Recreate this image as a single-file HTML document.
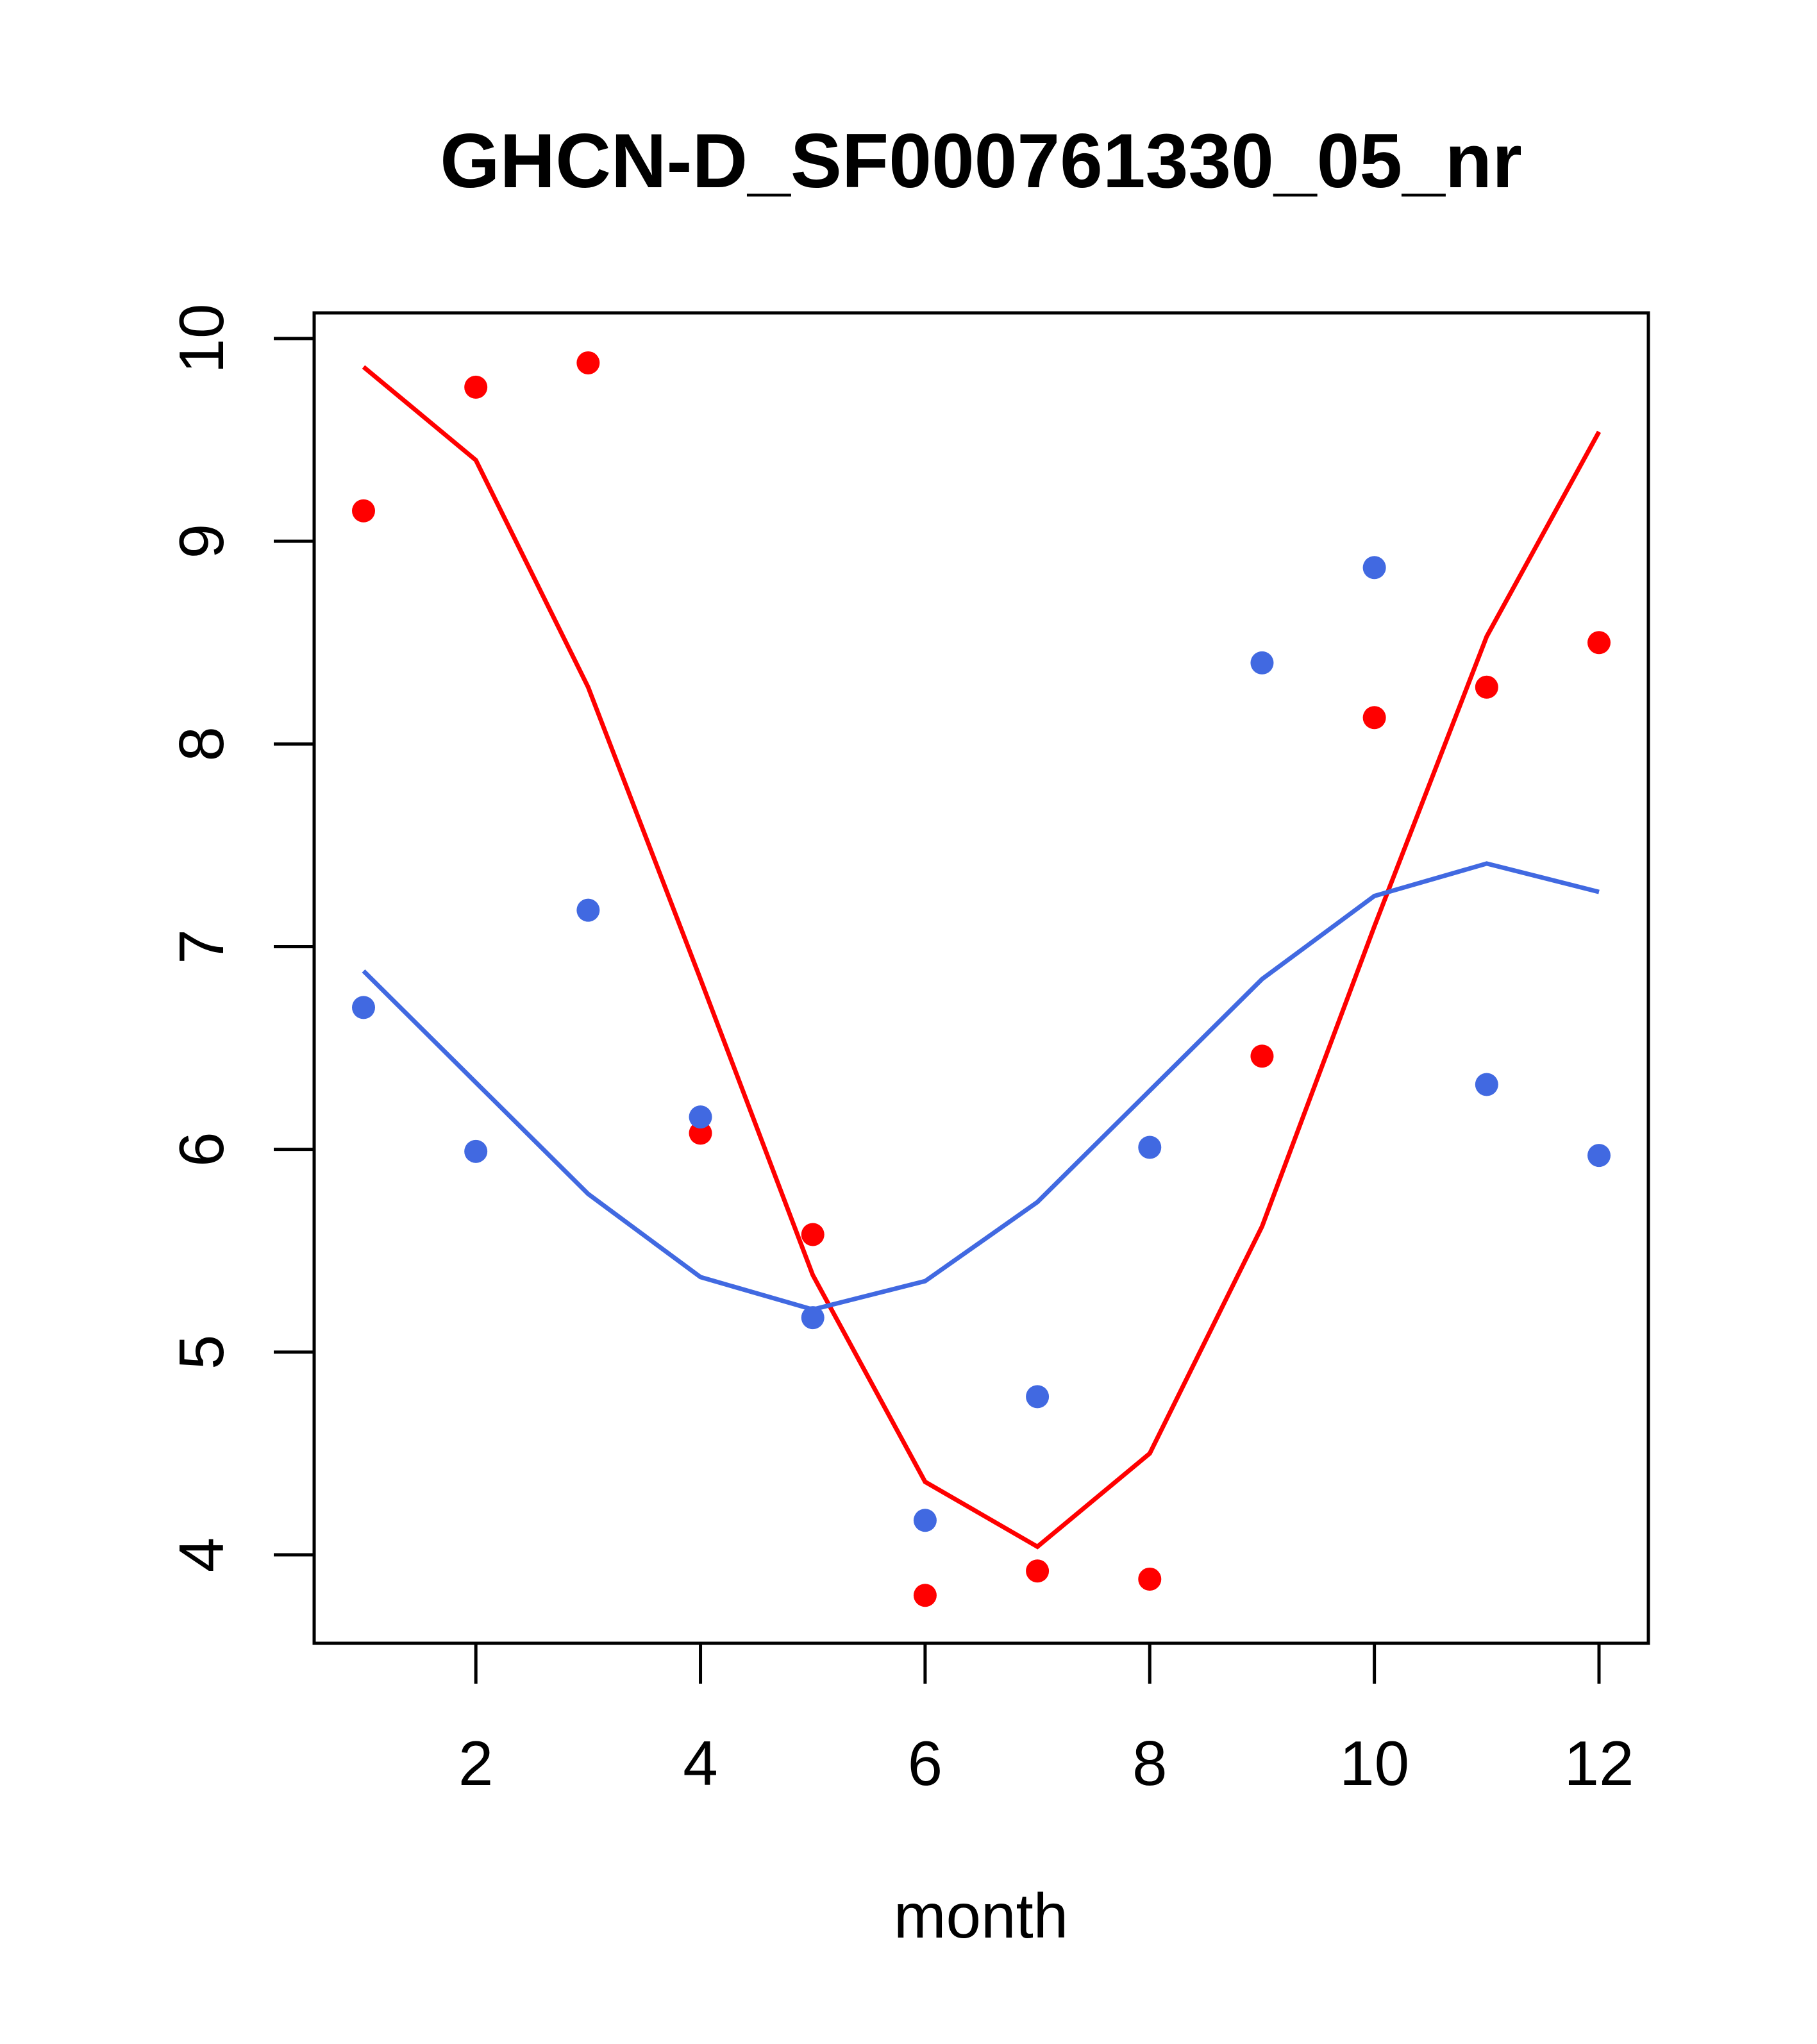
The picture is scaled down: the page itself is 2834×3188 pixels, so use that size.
<!DOCTYPE html>
<html><head><meta charset="utf-8"><style>
html,body{margin:0;padding:0;background:#fff;}
svg{display:block;font-family:"Liberation Sans",sans-serif;}
</style></head><body>
<svg id="chart" width="2834" height="3188" viewBox="0 0 2834 3188" xmlns="http://www.w3.org/2000/svg">
<rect width="2834" height="3188" fill="#fff"/>
<text x="1530" y="292" font-size="120" font-weight="bold" text-anchor="middle">GHCN-D_SF000761330_05_nr</text>
<rect x="490" y="488" width="2081" height="2075" fill="none" stroke="#000" stroke-width="5"/>
<text x="1530" y="3022" font-size="98" text-anchor="middle">month</text>
<g id="axes"></g>
<g id="series"></g>
</svg>
<script>
const months = [1,2,3,4,5,6,7,8,9,10,11,12];
const redPoints = [9.15,9.76,9.88,6.08,5.58,3.80,3.92,3.88,6.46,8.13,8.28,8.50];
const redLine = [9.86,9.40,8.28,6.84,5.38,4.36,4.04,4.50,5.62,7.10,8.53,9.54];
const bluePoints = [6.70,5.99,7.18,6.16,5.17,4.17,4.78,6.01,8.40,8.87,6.32,5.97];
const blueLine = [6.88,6.33,5.78,5.37,5.21,5.35,5.74,6.29,6.84,7.25,7.41,7.27];
const xTicks = [2,4,6,8,10,12];
const yTicks = [4,5,6,7,8,9,10];

const NS = "http://www.w3.org/2000/svg";
function xs(m){ return 567 + (m-1)*(2494-567)/11; }
function ys(v){ return 2425 - (v-4)*(2425-528)/6; }
function mk(tag, attrs, parent){
  const e = document.createElementNS(NS, tag);
  for (const k in attrs) e.setAttribute(k, attrs[k]);
  parent.appendChild(e); return e;
}
const axes = document.getElementById('axes');
const series = document.getElementById('series');
xTicks.forEach(t=>{
  const l = mk('line',{x1:xs(t),x2:xs(t),y1:2563,y2:2626,stroke:'#000','stroke-width':5},axes);
  
  
  const tx = mk('text',{x:xs(t),y:2784,'font-size':98,'text-anchor':'middle'},axes);
  tx.textContent = t;
  
  
});
yTicks.forEach(t=>{
  const l = mk('line',{x1:427,x2:490,y1:ys(t),y2:ys(t),stroke:'#000','stroke-width':5},axes);
  
  
  const tx = mk('text',{x:0,y:0,'font-size':98,'text-anchor':'middle',transform:`translate(348,${ys(t)}) rotate(-90)`},axes);
  tx.textContent = t;
  
  
});
function drawLine(vals, color, name){
  const p = mk('polyline',{points:vals.map((v,i)=>xs(months[i])+','+ys(v)).join(' '),fill:'none',stroke:color,'stroke-width':7},series);
  
  
}
function drawPts(vals, color, name){
  vals.forEach((v,i)=>{
    const c = mk('circle',{cx:xs(months[i]),cy:ys(v),r:18,fill:color},series);
    
    
  });
}
drawLine(redLine,'#ff0000','red-line');
drawLine(blueLine,'#4169e1','blue-line');
drawPts(redPoints,'#ff0000','red-point');
drawPts(bluePoints,'#4169e1','blue-point');
</script>
</body></html>
